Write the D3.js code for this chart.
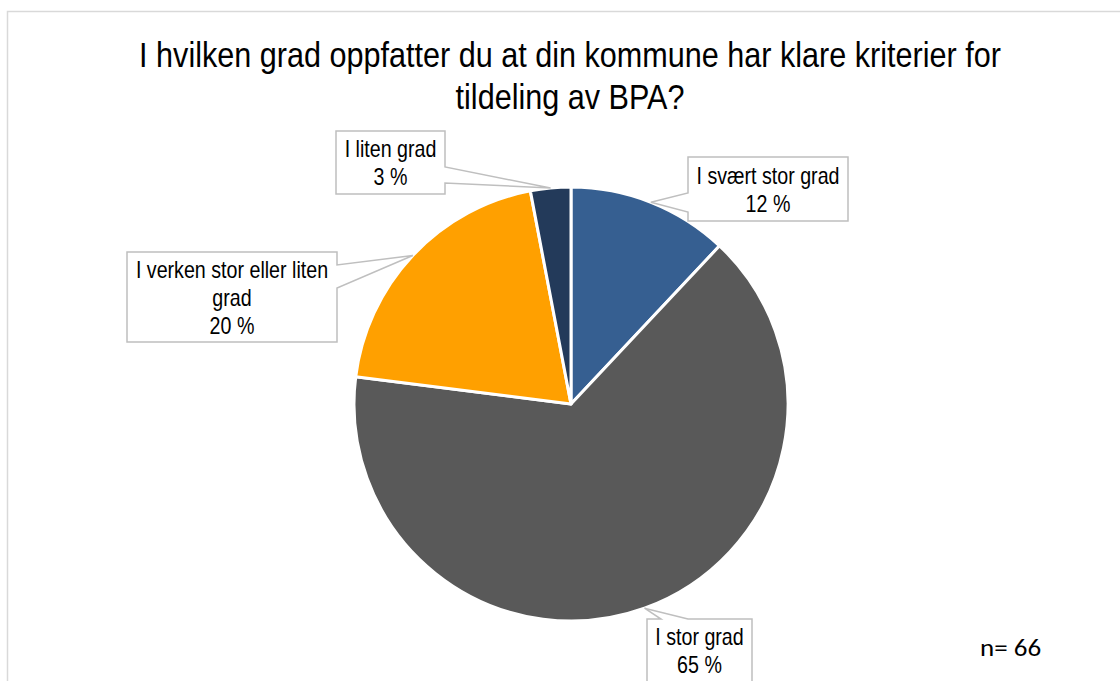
<!DOCTYPE html>
<html><head><meta charset="utf-8">
<script src="https://cdn.jsdelivr.net/npm/d3@7"></script>
<style>
html,body{margin:0;padding:0;background:#fff;}
svg{display:block;}
</style></head>
<body>
<svg id="chart" width="1120" height="681"></svg>
<script>
const categories = ["I svært stor grad", "I stor grad", "I verken stor eller liten grad", "I liten grad"];
const values = [12, 65, 20, 3];
const valueLabels = ["12 %", "65 %", "20 %", "3 %"];
const labelLines = [["I svært stor grad"], ["I stor grad"], ["I verken stor eller liten", "grad"], ["I liten grad"]];
const colors = ["#365f91", "#595959", "#ffa000", "#233a5a"];
const titleLines = ["I hvilken grad oppfatter du at din kommune har klare kriterier for", "tildeling av BPA?"];
const noteText = "n= 66";

const svg = d3.select("#chart");
const FONT = "'Liberation Sans Narrow', 'Arial Narrow', 'Liberation Sans', Arial, sans-serif";

function condensedText(parent, x, y, txt, size, sx, anchor, family) {
  parent.append("g").attr("transform", `translate(${x},${y}) scale(${sx},1)`)
    .append("text").attr("x", 0).attr("y", 0)
    .attr("text-anchor", anchor).attr("font-family", family || FONT).attr("font-size", size)
    .attr("fill", "#000").text(txt);
}

// outer frame
svg.append("path").attr("d", "M7.5,681 L7.5,11.5 L1120,11.5")
  .attr("fill", "none").attr("stroke", "#d9d9d9").attr("stroke-width", 1.5);

// title
titleLines.forEach((t, i) => condensedText(svg, 570, 67 + i * 42, t, 35, 0.874, "middle"));

const cx = 571, cy = 404, R = 217;
const pie = d3.pie().sort(null).value(d => d)(values);
const arc = d3.arc().innerRadius(0).outerRadius(R);
const g = svg.append("g").attr("transform", `translate(${cx},${cy})`);
g.selectAll("path").data(pie).join("path")
  .attr("d", arc).attr("fill", (d, i) => colors[i])
  .attr("stroke", "#fff").attr("stroke-width", 3).attr("stroke-linejoin", "round");

// label callouts
const boxes = [
  {x0: 688, y0: 157, x1: 848, y1: 221, side: "left", a: 193, b: 212},
  {x0: 647, y0: 619, x1: 752, y1: 700, side: "top", a: 661, b: 688},
  {x0: 127, y0: 252, x1: 337, y1: 342, side: "right", a: 265, b: 288},
  {x0: 336, y0: 131, x1: 445, y1: 194, side: "right", a: 167, b: 183}
];
pie.forEach((p, i) => {
  const bx = boxes[i];
  const mid = (p.startAngle + p.endAngle) / 2;
  const tx = cx + R * Math.sin(mid), ty = cy - R * Math.cos(mid);
  let pts;
  if (bx.side === "left") pts = [[bx.x0, bx.y0], [bx.x1, bx.y0], [bx.x1, bx.y1], [bx.x0, bx.y1], [bx.x0, bx.b], [tx, ty], [bx.x0, bx.a]];
  else if (bx.side === "right") pts = [[bx.x0, bx.y0], [bx.x1, bx.y0], [bx.x1, bx.a], [tx, ty], [bx.x1, bx.b], [bx.x1, bx.y1], [bx.x0, bx.y1]];
  else pts = [[bx.x0, bx.y0], [bx.a, bx.y0], [tx, ty], [bx.b, bx.y0], [bx.x1, bx.y0], [bx.x1, bx.y1], [bx.x0, bx.y1]];
  svg.append("path").attr("d", d3.line()(pts) + "Z")
    .attr("fill", "#fff").attr("stroke", "#bfbfbf").attr("stroke-width", 1.5);
  const lines = labelLines[i].concat([valueLabels[i]]);
  const lh = 28;
  const yStart = (i === 1) ? 645 : (bx.y0 + bx.y1) / 2 - (lines.length - 1) * lh / 2 + 8.5;
  lines.forEach((t, j) => condensedText(svg, (bx.x0 + bx.x1) / 2, yStart + j * lh, t, 23, 0.855, "middle"));
});

condensedText(svg, 980, 656, noteText, 25, 1.08, "start", "'Carlito', 'Open Sans', 'Liberation Sans', sans-serif");
</script>
</body></html>
